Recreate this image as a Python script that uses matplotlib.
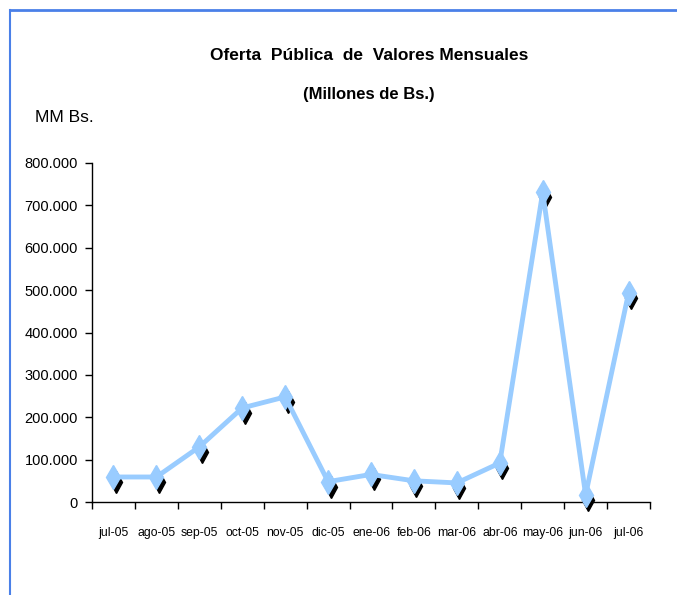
import matplotlib
matplotlib.use("Agg")
import matplotlib.pyplot as plt
import matplotlib.transforms as mtransforms
from matplotlib.lines import Line2D

months = ["jul-05", "ago-05", "sep-05", "oct-05", "nov-05", "dic-05", "ene-06",
          "feb-06", "mar-06", "abr-06", "may-06", "jun-06", "jul-06"]
values = [59, 59, 130, 222, 248, 48, 65, 50, 45, 92, 731, 17, 493]
yticks = [0, 100, 200, 300, 400, 500, 600, 700, 800]
ytick_labels = ["0", "100.000", "200.000", "300.000", "400.000", "500.000",
                "600.000", "700.000", "800.000"]

plt.rcParams['font.family'] = ['Liberation Sans', 'DejaVu Sans']

fig = plt.figure(figsize=(6.77, 5.95), dpi=100)
ax = fig.add_axes([92/677, 93/595, (650-92)/677, (502-163)/595])

x = list(range(len(months)))
line_color = "#99ccff"

shadow = mtransforms.offset_copy(ax.transData, fig=fig, x=2.5, y=-5, units='dots')
ax.plot(x, values, linestyle='none', marker='d', markersize=11, color='black',
        transform=shadow, zorder=2, clip_on=False)
ax.plot(x, values, color=line_color, linewidth=3.5, zorder=3, clip_on=False)
ax.plot(x, values, linestyle='none', marker='d', markersize=12, color=line_color,
        markeredgecolor=line_color, zorder=4, clip_on=False)

ax.set_xlim(-0.5, len(months) - 0.5)
ax.set_ylim(0, 800)
ax.set_yticks(yticks)
ax.set_yticklabels(ytick_labels, fontsize=10.5)
ax.set_xticks(x)
ax.set_xticklabels(months, fontsize=8.8)
ax.set_xticks([i - 0.5 for i in range(len(months) + 1)], minor=True)
ax.tick_params(axis='x', which='major', length=0, pad=18)
ax.tick_params(axis='x', which='minor', length=5, width=1, direction='out')
ax.tick_params(axis='y', length=5, width=1, direction='out', pad=5)
for s in ['top', 'right']:
    ax.spines[s].set_visible(False)
for s in ['left', 'bottom']:
    ax.spines[s].set_linewidth(1)

fig.text(369/677, 1 - 55/595, "Oferta  Pública  de  Valores Mensuales", ha='center', va='center',
         fontsize=12.5, fontweight='bold')
fig.text(369/677, 1 - 95/595, "(Millones de Bs.)", ha='center', va='center',
         fontsize=12, fontweight='bold')
fig.text(35/677, 1 - 118/595, "MM Bs.", ha='left', va='center', fontsize=12.5)

border = "#4a80e8"
fig.add_artist(Line2D([10/677, 1], [1 - 10/595, 1 - 10/595], transform=fig.transFigure,
                      color=border, linewidth=2))
fig.add_artist(Line2D([10/677, 10/677], [0, 1 - 10/595], transform=fig.transFigure,
                      color=border, linewidth=1.5))

fig.savefig("out.png", dpi=100)
